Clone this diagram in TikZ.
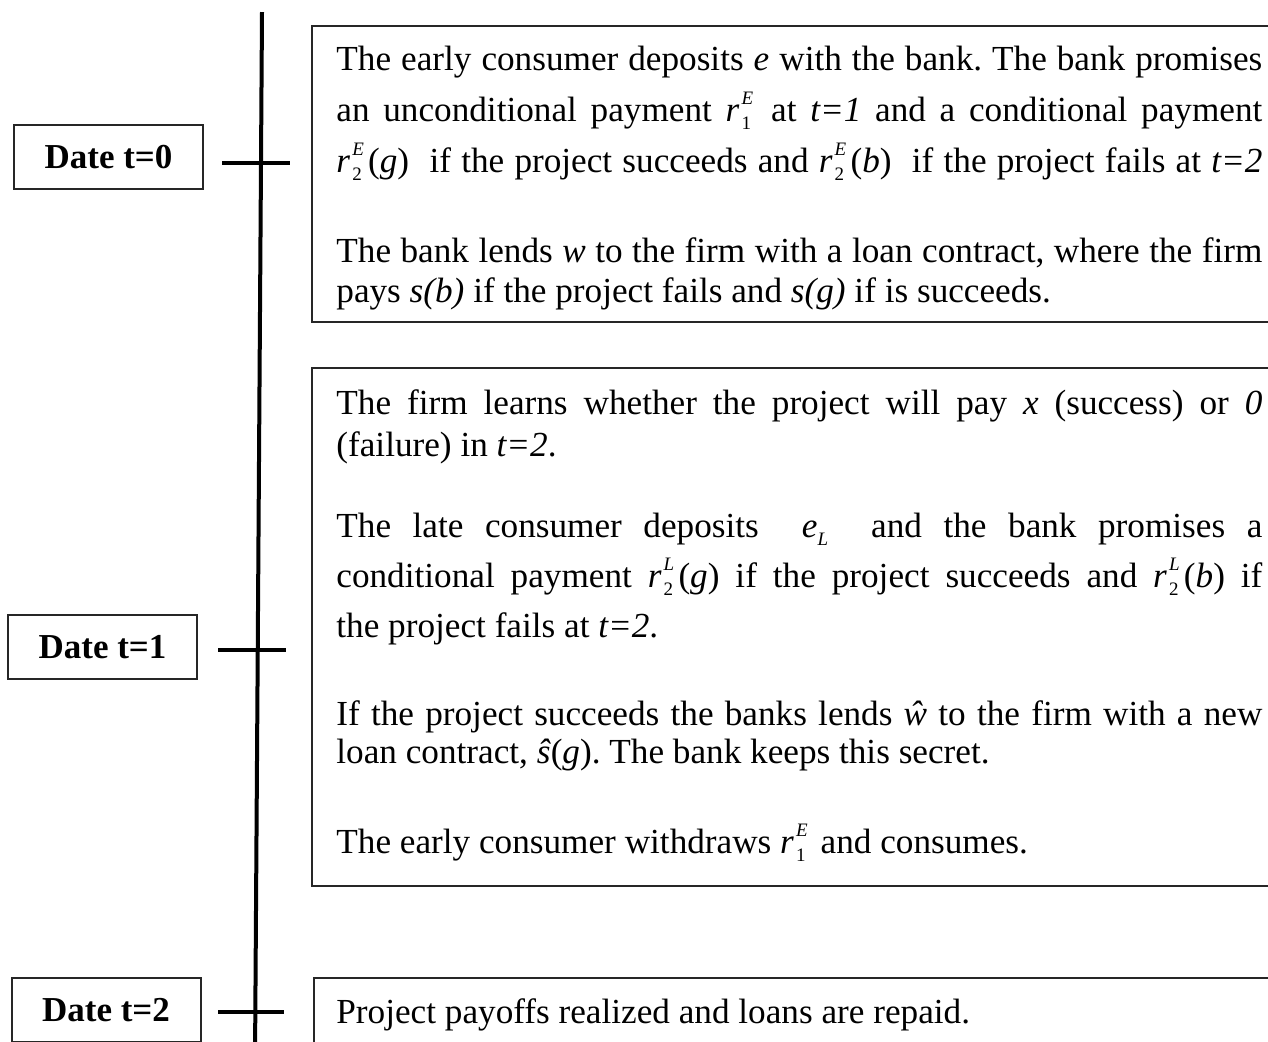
\documentclass[tikz,border=0pt]{standalone}
\usepackage{fontspec}
\setmainfont{Liberation Serif}
\frenchspacing
\newcommand\smallidx{\fontsize{9.5}{9.5}\selectfont}
\newcommand\rsup[2]{\textit{r}\kern0.06em\rlap{\raisebox{-0.5ex}{\smallidx #1}}\raisebox{1.05ex}{\smallidx\textit{#2}}\kern0.12em}
\begin{document}
\begin{tikzpicture}[x=0.5pt,y=-0.5pt,
  datebox/.style={draw=black!85, line width=1pt, minimum width=94.5pt, minimum height=32pt, inner sep=0pt, font=\fontsize{17.5}{20}\selectfont\bfseries},
  evbox/.style={draw=black!85, line width=1pt, anchor=north west, inner sep=0pt, minimum width=500pt},
  para/.style={anchor=base west, text width=463pt, align=justify, inner sep=0pt},
  tick/.style={line width=2pt},
  timeline/.style={line width=2pt}]
\useasboundingbox (0,0) rectangle (1268,1041);
\clip (0,0) rectangle (1268,1041);

% timeline
\coordinate (tltop) at (262,12);
\coordinate (tlbot) at (255,1060);
\draw[timeline] (tltop) -- (tlbot);

% date labels
\node[datebox] (d0) at (108.5,157) {Date t=0};
\node[datebox] (d1) at (102.5,647) {Date t=1};
\node[datebox] (d2) at (106,1010) {Date t=2};

% event boxes
\node[evbox, minimum height=148pt] (b0) at (311,25) {};
\node[evbox, minimum height=259pt] (b1) at (311,367) {};
\node[evbox, minimum height=50pt] (b2) at (313,977) {};

% ticks
\coordinate (k0a) at (222,163); \coordinate (k0b) at (290,163);
\coordinate (k1a) at (218,650); \coordinate (k1b) at (286,650);
\coordinate (k2a) at (218,1012); \coordinate (k2b) at (284,1012);
\draw[tick] (k0a) -- (k0b);
\draw[tick] (k1a) -- (k1b);
\draw[tick] (k2a) -- (k2b);

% texts, t=0
\node[para, font=\fontsize{17.6}{25.5}\selectfont] (p01) at (336,70) {%
The early consumer deposits \textit{e} with the bank. The bank promises\linebreak
an unconditional payment \rsup{1}{E}\ at \textit{t=1} and a conditional payment\linebreak
\rsup{2}{E}(\textit{g})\ \ if the project succeeds and \rsup{2}{E}(\textit{b})\ \ if the project fails at \textit{t=2}\parfillskip=0pt\par};
\node[para, font=\fontsize{17.6}{20}\selectfont] (p02) at (336,262) {The bank lends \textit{w} to the firm with a loan contract, where the firm\linebreak
pays \textit{s(b)} if the project fails and \textit{s(g)} if is succeeds.};

% texts, t=1
\node[para, font=\fontsize{17.6}{21}\selectfont] (p11) at (336,414) {The firm learns whether the project will pay \textit{x} (success) or \textit{0}\linebreak
(failure) in \textit{t=2}.};
\node[para, font=\fontsize{17.6}{25}\selectfont] (p12) at (336,537) {The late consumer deposits \ \textit{e}\raisebox{-0.5ex}{\smallidx\textit{L}}\ \ and the bank promises a\linebreak
conditional payment \rsup{2}{L}(\textit{g})\ if the project succeeds and \rsup{2}{L}(\textit{b})\ if\linebreak
the project fails at \textit{t=2}.};
\node[para, font=\fontsize{17.6}{19}\selectfont] (p13) at (336,725) {If the project succeeds the banks lends \textit{ŵ}\ to the firm with a new\linebreak
loan contract, \textit{ŝ}(\textit{g}). The bank keeps this secret.};
\node[para, font=\fontsize{17.6}{19}\selectfont] (p14) at (336,853) {The early consumer withdraws \rsup{1}{E}\ and consumes.};

% texts, t=2
\node[para, font=\fontsize{17.6}{19}\selectfont] (p21) at (336,1023) {Project payoffs realized and loans are repaid.};
\end{tikzpicture}
\end{document}
